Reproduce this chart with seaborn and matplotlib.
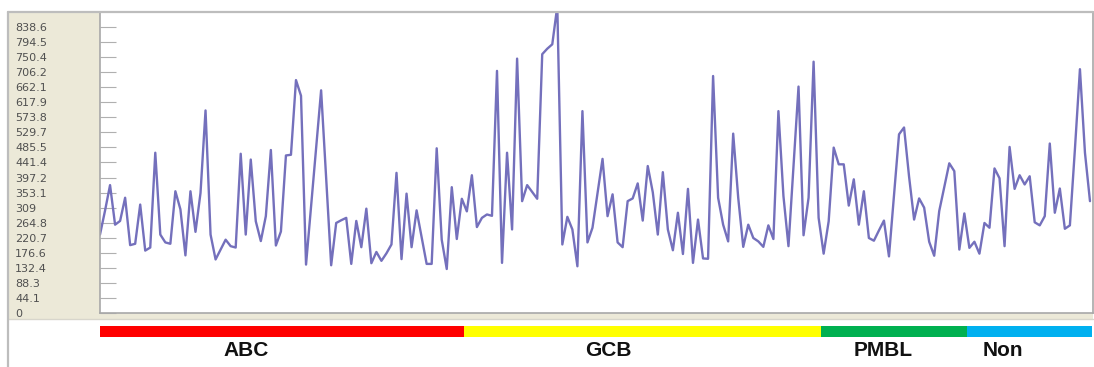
import numpy as np
import pandas as pd
import matplotlib
matplotlib.use("Agg")
import matplotlib.pyplot as plt
import seaborn as sns
from matplotlib.patches import Rectangle
from matplotlib.lines import Line2D

# ---------------- data ----------------
abc_values = [230, 300, 375, 259, 270, 338, 199, 203, 318, 183, 192, 470, 230, 207, 203,
              357, 304, 169, 357, 238, 352, 594, 230, 157, 186, 215, 196, 192, 467, 230,
              450, 269, 211, 284, 478, 198, 239, 462, 464, 683, 637, 142, 312, 483, 653,
              396, 140, 264, 272, 279, 144, 270, 193, 306, 146, 179, 153, 175, 201, 411,
              158, 350, 193, 301, 222, 144, 144, 483, 215, 129, 369, 217, 335]
gcb_values = [298, 404, 252, 279, 289, 285, 710, 147, 470, 245, 746, 328, 375, 355, 335,
              759, 775, 788, 900, 201, 282, 245, 137, 592, 207, 250, 350, 452, 284, 348,
              207, 193, 328, 336, 380, 271, 431, 354, 230, 413, 245, 184, 294, 173, 364,
              147, 274, 160, 159, 695, 338, 259, 210, 526, 338, 194, 259, 220, 210, 194,
              257, 217, 592, 343, 196, 430, 664, 228, 338, 737, 279]
pmbl_values = [174, 269, 485, 436, 436, 315, 392, 259, 357, 220, 212, 242, 271, 166, 345,
               524, 544, 400, 274, 336, 309, 209, 168, 299, 369, 439, 416, 186, 292]
non_values = [191, 209, 174, 264, 250, 424, 395, 196, 487, 364, 404, 377, 401, 266, 257,
              284, 497, 294, 365, 247, 257, 480, 715, 470, 328]

groups = ["ABC", "GCB", "PMBL", "Non"]
group_series = [abc_values, gcb_values, pmbl_values, non_values]
group_colors = ["#FF0000", "#FFFF00", "#00B050", "#00B0F0"]

ytick_values = [0, 44.1, 88.3, 132.4, 176.6, 220.7, 264.8, 309, 353.1, 397.2, 441.4,
                485.5, 529.7, 573.8, 617.9, 662.1, 706.2, 750.4, 794.5, 838.6]
ytick_labels = ["0", "44.1", "88.3", "132.4", "176.6", "220.7", "264.8", "309", "353.1",
                "397.2", "441.4", "485.5", "529.7", "573.8", "617.9", "662.1", "706.2",
                "750.4", "794.5", "838.6"]
y_max = 882.7

# ---------------- build frame ----------------
rows = []
for g, vals in zip(groups, group_series):
    for v in vals:
        rows.append((g, v))
df = pd.DataFrame(rows, columns=["group", "value"])
df["idx"] = np.arange(len(df))
counts = df.groupby("group", sort=False).size().reindex(groups).values
starts = np.concatenate([[0], np.cumsum(counts)[:-1]])

# ---------------- figure ----------------
sns.set_theme(style="white")
plt.rcParams["font.family"] = ["Liberation Sans", "DejaVu Sans"]

W, H = 1094, 367
fig = plt.figure(figsize=(W / 100, H / 100), dpi=100)
fig.patch.set_facecolor("white")

def fx(px):
    return px / W

def fy(py):
    return 1 - py / H

# beige panel behind axis labels
fig.patches.append(Rectangle((fx(8), fy(319)), (1093 - 8) / W, (319 - 12) / H,
                             transform=fig.transFigure, facecolor="#ECE9D8",
                             edgecolor="none", zorder=-10))
# panel borders
fig.lines.append(Line2D([fx(8), fx(1093)], [fy(12), fy(12)], transform=fig.transFigure,
                        color="#BDBDBD", lw=1.6, zorder=5))
fig.lines.append(Line2D([fx(7.5), fx(7.5)], [fy(12), fy(367)], transform=fig.transFigure,
                        color="#BDBDBD", lw=1.6, zorder=5))
fig.lines.append(Line2D([fx(8), fx(1093)], [fy(318.5), fy(318.5)], transform=fig.transFigure,
                        color="#D8D6CC", lw=1.0, zorder=-5))

# main axes
ax = fig.add_axes([fx(100), fy(313), (1093 - 100) / W, (313 - 12) / H])
ax.set_facecolor("white")
sns.lineplot(data=df, x="idx", y="value", ax=ax, color="#7470BC", linewidth=1.7,
             estimator=None, legend=False)
x_left, x_right = 0.0, 197.6
ax.set_xlim(x_left, x_right)
ax.set_ylim(0, y_max)
ax.set_xlabel("")
ax.set_ylabel("")
ax.set_xticks([])
ax.set_yticks(ytick_values)
ax.set_yticklabels(ytick_labels)
ax.tick_params(axis="y", direction="in", length=11.5, width=0.8, color="#B0B0B0",
               pad=61.2, labelsize=8, labelcolor="#505050", left=True)
for lbl in ax.get_yticklabels():
    lbl.set_horizontalalignment("left")
    lbl.set_family(["DejaVu Sans"])
for side in ["left", "bottom", "right"]:
    ax.spines[side].set_visible(True)
    ax.spines[side].set_color("#A8A8A8")
    ax.spines[side].set_linewidth(1.2)
ax.spines["top"].set_visible(False)

# group colour strip
bx = fig.add_axes([fx(100), fy(337), (1093 - 100) / W, 11 / H], sharex=ax)
for s, c, col in zip(starts, counts, group_colors):
    bx.barh(0, c, left=s - 0.5, height=1.0, color=col, edgecolor="none")
bx.set_ylim(-0.5, 0.5)
bx.set_xlim(x_left, x_right)
bx.axis("off")

# group labels
label_x_px = [246, 608, 883, 1003]
for g, xp in zip(groups, label_x_px):
    fig.text(fx(xp), fy(351), g, ha="center", va="center", fontsize=15,
             fontweight="bold", color="#111111")

fig.savefig("out.png", dpi=100)
